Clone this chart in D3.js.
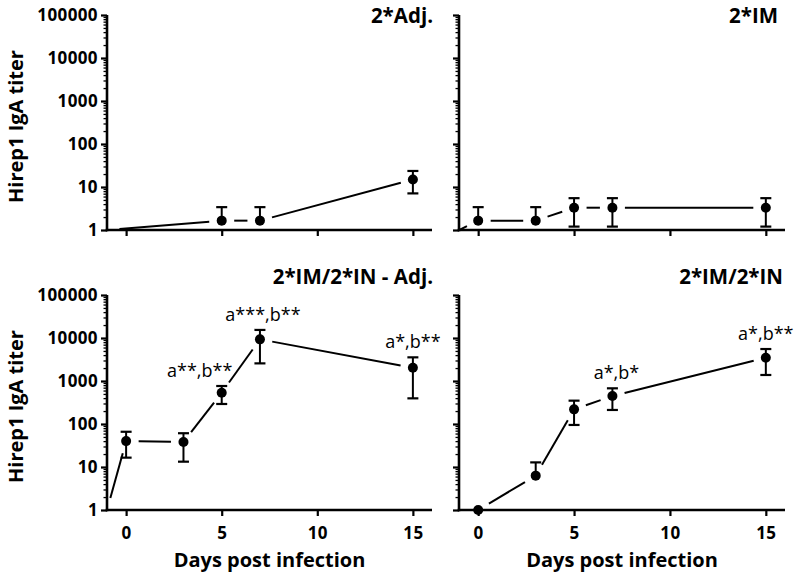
<!DOCTYPE html>
<html><head><meta charset="utf-8">
<script src="https://cdn.jsdelivr.net/npm/d3@7"></script>
<style>
body{margin:0;background:#fff;}
svg{display:block;}
text{font-family:"Open Sans",sans-serif;fill:#000;}
</style></head>
<body>
<svg id="chart" width="795" height="577"></svg>
<script>
// ---------- data ----------
const panelTitles = ["2*Adj.", "2*IM", "2*IM/2*IN - Adj.", "2*IM/2*IN"];
const yTickValues = [1, 10, 100, 1000, 10000, 100000];
const xTickValues = [0, 5, 10, 15];

// 2*Adj.
const adjDays  = [5, 7, 15];
const adjMean  = [1.65, 1.65, 15];
const adjUpper = [3.4, 3.4, 23.6];
const adjLower = [null, null, 7.1];
const adjStart = [-1, 1];

// 2*IM
const imDays  = [0, 3, 5, 7, 15];
const imMean  = [1.65, 1.65, 3.3, 3.3, 3.3];
const imUpper = [3.4, 3.4, 5.5, 5.5, 5.5];
const imLower = [null, null, 1.2, 1.2, 1.2];
const imStart = [-2, 0.6];

// 2*IM/2*IN - Adj.
const imInAdjDays  = [0, 3, 5, 7, 15];
const imInAdjMean  = [40, 38, 535, 9300, 2040];
const imInAdjUpper = [66, 61, 765, 15400, 3550];
const imInAdjLower = [16.5, 13.3, 292, 2570, 395];
const imInAdjStart = [-1, 1];
const imInAdjNotes = ["", "", "a**,b**", "a***,b**", "a*,b**"];

// 2*IM/2*IN
const imInDays  = [0, 3, 5, 7, 15];
const imInMean  = [1, 6.3, 219, 448, 3480];
const imInUpper = [null, 12.8, 349, 676, 5540];
const imInLower = [null, null, 95, 212, 1380];
const imInNotes = ["", "", "", "a*,b*", "a*,b**"];

// ---------- layout ----------
const svg = d3.select("#chart");
const colX = [[107, 432], [459, 785]];
const rowY = [[230, 15], [510, 295]];
const titleY = [23, 284];
const noteNudge = {"a**,b**": -22, "a***,b**": 3, "a*,b*": 4};

const panels = [
  {title: panelTitles[0], col: 0, row: 0, days: adjDays, mean: adjMean, up: adjUpper, lo: adjLower, start: adjStart, notes: null},
  {title: panelTitles[1], col: 1, row: 0, days: imDays, mean: imMean, up: imUpper, lo: imLower, start: imStart, notes: null},
  {title: panelTitles[2], col: 0, row: 1, days: imInAdjDays, mean: imInAdjMean, up: imInAdjUpper, lo: imInAdjLower, start: imInAdjStart, notes: imInAdjNotes},
  {title: panelTitles[3], col: 1, row: 1, days: imInDays, mean: imInMean, up: imInUpper, lo: imInLower, start: null, notes: imInNotes}
];

const minorTicks = [];
for (let d = 1; d < 100000; d *= 10) for (let k = 2; k <= 9; k++) minorTicks.push(d * k);

const GAP = 12.5;

panels.forEach((p, i) => {
  const x = d3.scaleLinear().domain([-1, 16]).range(colX[p.col]);
  const y = d3.scaleLog().domain([1, 100000]).range(rowY[p.row]);
  const g = svg.append("g");
  const clipId = "clip" + i;
  svg.append("clipPath").attr("id", clipId).append("rect")
    .attr("x", colX[p.col][0]).attr("y", rowY[p.row][1] - 20)
    .attr("width", colX[p.col][1] - colX[p.col][0] + 10)
    .attr("height", rowY[p.row][0] - rowY[p.row][1] + 20);

  // y axis minor ticks
  g.append("g").attr("transform", `translate(${colX[p.col][0]},0)`)
    .call(d3.axisLeft(y).tickValues(minorTicks).tickSize(3.5).tickFormat(""))
    .call(a => a.select(".domain").remove())
    .call(a => a.selectAll("line").attr("stroke-width", 1.3));
  // y axis major
  const ya = g.append("g").attr("transform", `translate(${colX[p.col][0]},0)`)
    .call(d3.axisLeft(y).tickValues(yTickValues).tickSize(6).tickSizeOuter(0).tickPadding(3)
      .tickFormat(p.col === 0 ? d3.format("d") : ""));
  ya.select(".domain").attr("stroke-width", 2.6).attr("d", `M0,${rowY[p.row][0] + 1.3}V${rowY[p.row][1]}`);
  ya.selectAll("line").attr("stroke-width", 2.2);
  ya.selectAll("text").attr("font-size", 17).attr("font-weight", 700)
    .attr("letter-spacing", 0.4).attr("font-family", '"Open Sans",sans-serif');

  // x axis
  const xa = g.append("g").attr("transform", `translate(0,${rowY[p.row][0]})`)
    .call(d3.axisBottom(x).tickValues(xTickValues).tickSize(6).tickSizeOuter(0).tickPadding(11)
      .tickFormat(p.row === 1 ? d3.format("d") : ""));
  xa.select(".domain").attr("stroke-width", 2.6).attr("d", `M${colX[p.col][0] - 1.3},0H${colX[p.col][1]}`);
  xa.selectAll("line").attr("stroke-width", 2.2);
  xa.selectAll("text").attr("font-size", 17).attr("font-weight", 700)
    .attr("letter-spacing", 0.4).attr("font-family", '"Open Sans",sans-serif');

  // connecting lines with gaps
  const pts = p.days.map((d, j) => [x(d), y(p.mean[j])]);
  if (p.start) pts.unshift([x(p.start[0]), y(p.start[1])]);
  const lineG = g.append("g").attr("clip-path", `url(#${clipId})`);
  for (let j = 0; j < pts.length - 1; j++) {
    const [x1, y1] = pts[j], [x2, y2] = pts[j + 1];
    const L = Math.hypot(x2 - x1, y2 - y1);
    if (L <= 2 * GAP) continue;
    const ux = (x2 - x1) / L, uy = (y2 - y1) / L;
    lineG.append("line")
      .attr("x1", x1 + ux * GAP).attr("y1", y1 + uy * GAP)
      .attr("x2", x2 - ux * GAP).attr("y2", y2 - uy * GAP)
      .attr("stroke", "#000").attr("stroke-width", 2);
  }

  // error bars
  p.days.forEach((d, j) => {
    const cx = x(d), cy = y(p.mean[j]);
    if (p.up[j] != null) {
      const yu = y(p.up[j]);
      g.append("line").attr("x1", cx).attr("x2", cx).attr("y1", cy).attr("y2", yu)
        .attr("stroke", "#000").attr("stroke-width", 2);
      g.append("line").attr("x1", cx - 5.5).attr("x2", cx + 5.5).attr("y1", yu).attr("y2", yu)
        .attr("stroke", "#000").attr("stroke-width", 2.2);
    }
    if (p.lo[j] != null) {
      const yl = y(p.lo[j]);
      g.append("line").attr("x1", cx).attr("x2", cx).attr("y1", cy).attr("y2", yl)
        .attr("stroke", "#000").attr("stroke-width", 2);
      g.append("line").attr("x1", cx - 5.5).attr("x2", cx + 5.5).attr("y1", yl).attr("y2", yl)
        .attr("stroke", "#000").attr("stroke-width", 2.2);
    }
    g.append("circle").attr("cx", cx).attr("cy", cy).attr("r", 5).attr("fill", "#000");
  });

  // annotations
  if (p.notes) p.notes.forEach((t, j) => {
    if (!t) return;
    const cx = x(p.days[j]) + (noteNudge[t] || 0);
    g.append("text").attr("x", cx).attr("y", y(p.up[j]) - 9)
      .attr("text-anchor", "middle").attr("font-size", 18).text(t);
  });

  // panel title
  g.append("text").attr("x", p.col === 0 ? 433 : (p.row === 0 ? 778 : 783))
    .attr("y", titleY[p.row]).attr("text-anchor", "end")
    .attr("font-size", 20.5).attr("font-weight", 700).text(p.title);

  // axis titles
  if (p.col === 0) {
    g.append("text").attr("transform", `translate(23,${(rowY[p.row][0] + rowY[p.row][1]) / 2 + 4}) rotate(-90)`)
      .attr("text-anchor", "middle").attr("font-size", 20).attr("font-weight", 700).text("Hirep1 IgA titer");
  }
  if (p.row === 1) {
    g.append("text").attr("x", (colX[p.col][0] + colX[p.col][1]) / 2).attr("y", 567)
      .attr("text-anchor", "middle").attr("font-size", 20).attr("font-weight", 700).text("Days post infection");
  }
});
</script>
</body></html>
